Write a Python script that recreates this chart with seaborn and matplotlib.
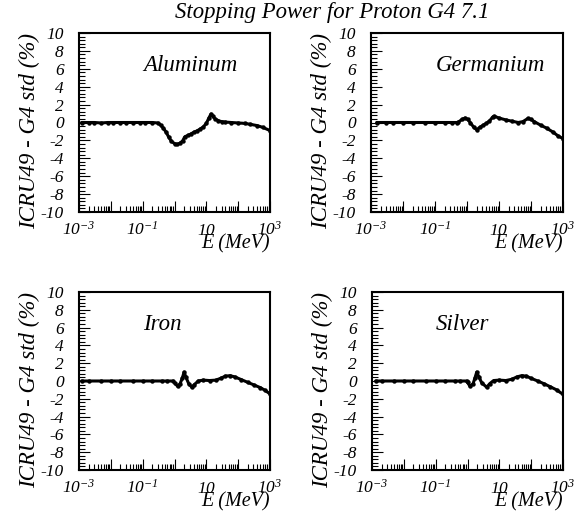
import matplotlib
matplotlib.use("Agg")
import matplotlib.pyplot as plt
import seaborn as sns
import pandas as pd
from matplotlib.ticker import FixedLocator, LogLocator, MultipleLocator, NullFormatter

sns.set_theme(style="ticks")
plt.rcParams["font.family"] = ["Liberation Serif", "DejaVu Serif"]
plt.rcParams["font.style"] = "italic"
plt.rcParams["mathtext.fontset"] = "custom"
plt.rcParams["mathtext.rm"] = "Liberation Serif:italic"
plt.rcParams["mathtext.it"] = "Liberation Serif:italic"
plt.rcParams["mathtext.default"] = "rm"
plt.rcParams["axes.unicode_minus"] = False

title = "Stopping Power for Proton G4 7.1"
ylabel = "ICRU49 - G4 std (%)"
xlabel = "E (MeV)"
xtick_pos = [1e-3, 1e-2, 1e-1, 1, 10, 100, 1e3]
xtick_lab = [r"$10^{-3}$", "", r"$10^{-1}$", "", r"$10$", "", r"$10^{3}$"]
ytick_pos = [-10, -8, -6, -4, -2, 0, 2, 4, 6, 8, 10]

# Aluminum
al_E = [0.0012, 0.002, 0.003, 0.005, 0.008, 0.012, 0.02, 0.03, 0.05, 0.08, 0.12,
        0.2, 0.3, 0.37, 0.45, 0.55, 0.65, 0.8, 1.0, 1.2, 1.5, 1.8, 2.1, 2.6, 3.2,
        4.0, 5.0, 6.3, 8.0, 10, 12, 14, 16, 19, 24, 30, 40, 60, 100, 160, 240,
        400, 600, 1000]
al_d = [0.0, 0.0, 0.0, -0.05, 0.0, 0.0, 0.0, 0.0, 0.0, 0.0, 0.0,
        0.0, -0.05, -0.3, -0.65, -1.1, -1.6, -2.1, -2.35, -2.45, -2.3, -2.05, -1.6, -1.45, -1.3,
        -1.1, -0.95, -0.75, -0.5, -0.1, 0.5, 0.95, 0.7, 0.4, 0.2, 0.1, 0.05, 0.0, -0.05, -0.1, -0.2,
        -0.35, -0.55, -0.9]

# Germanium
ge_E = [0.0015, 0.003, 0.005, 0.01, 0.02, 0.05, 0.1, 0.2, 0.35, 0.5, 0.54, 0.7, 0.87,
        1.05, 1.26, 1.6, 2.0, 2.5, 3.2, 4.0, 5.0, 6.3, 7.1, 10, 16, 25, 40, 56, 80,
        100, 126, 200, 316, 500, 700, 1000]
ge_d = [0.0, 0.0, 0.0, 0.0, 0.0, 0.0, 0.0, 0.0, 0.0, 0.0, 0.05, 0.35, 0.5,
        0.35, 0.0, -0.5, -0.8, -0.55, -0.3, -0.1, 0.15, 0.6, 0.7, 0.5, 0.3, 0.15, 0.0, 0.1, 0.45,
        0.35, 0.1, -0.3, -0.65, -1.1, -1.5, -1.8]

# Iron
fe_E = [0.0012, 0.002, 0.005, 0.01, 0.02, 0.05, 0.1, 0.2, 0.4, 0.6, 0.9, 1.0, 1.26,
        1.5, 1.75, 2.0, 2.3, 2.8, 3.5, 4.2, 5.6, 8.0, 12.6, 20, 28, 40, 56, 80,
        126, 200, 316, 500, 700, 1000]
fe_d = [0.0, 0.0, 0.0, 0.0, 0.0, 0.0, 0.0, 0.0, 0.0, 0.0, 0.0, -0.2, -0.6,
        -0.3, 0.3, 1.0, 0.4, -0.3, -0.7, -0.4, 0.0, 0.1, 0.05, 0.1, 0.3, 0.55, 0.6, 0.45,
        0.15, -0.15, -0.45, -0.75, -1.05, -1.45]

# Silver
ag_E = [0.0013, 0.002, 0.005, 0.01, 0.02, 0.05, 0.1, 0.2, 0.4, 0.6, 0.95, 1.0, 1.2,
        1.5, 1.7, 1.95, 2.25, 2.8, 4.0, 5.0, 6.6, 10, 16, 25, 35, 50, 70, 100,
        160, 250, 400, 630, 1000]
ag_d = [0.0, 0.0, 0.0, 0.0, 0.0, 0.0, 0.0, 0.0, 0.0, 0.0, 0.0, -0.15, -0.6,
        -0.3, 0.3, 1.0, 0.5, -0.2, -0.7, -0.3, 0.05, 0.1, 0.05, 0.2, 0.45, 0.6, 0.55, 0.3,
        0.0, -0.3, -0.65, -1.0, -1.5]

panels = [
    ("Aluminum", al_E, al_d, [79 / 585, 1 - 212 / 515, 191 / 585, 179 / 515]),
    ("Germanium", ge_E, ge_d, [371 / 585, 1 - 212 / 515, 192 / 585, 179 / 515]),
    ("Iron", fe_E, fe_d, [79 / 585, 1 - 470 / 515, 191 / 585, 178 / 515]),
    ("Silver", ag_E, ag_d, [372 / 585, 1 - 470 / 515, 191 / 585, 178 / 515]),
]

fig = plt.figure(figsize=(5.85, 5.15), dpi=100)
fig.patch.set_facecolor("white")

for name, E, d, rect in panels:
    ax = fig.add_axes(rect)
    df = pd.DataFrame({"E": E, "d": d})
    sns.lineplot(data=df, x="E", y="d", ax=ax, color="black", linewidth=2.2,
                 marker="o", markersize=3.2, markeredgewidth=0, sort=False)
    ax.set_xscale("log")
    ax.set_xlim(1e-3, 1e3)
    ax.set_ylim(-10, 10)
    ax.set_facecolor("white")
    for s in ax.spines.values():
        s.set_linewidth(1.5)
        s.set_color("black")
        s.set_visible(True)
    ax.xaxis.set_major_locator(FixedLocator(xtick_pos))
    ax.set_xticklabels(xtick_lab)
    ax.xaxis.set_minor_locator(LogLocator(base=10, subs=[2, 3, 4, 5, 6, 7, 8, 9], numticks=20))
    ax.xaxis.set_minor_formatter(NullFormatter())
    ax.set_yticks(ytick_pos)
    ax.yaxis.set_minor_locator(MultipleLocator(0.4))
    ax.tick_params(which="both", direction="in", top=False, right=False,
                   color="black", width=0.8, labelsize=12.5, labelcolor="black")
    ax.tick_params(which="major", length=8)
    ax.tick_params(which="minor", length=4.3)
    ax.tick_params(axis="y", which="major", pad=11)
    ax.tick_params(axis="x", which="major", pad=6)
    # plain "10" label sits level with the other bases
    ax.xaxis.get_major_ticks()[4].label1.set_y(-0.015)
    ax.set_ylabel(ylabel, loc="top", fontsize=16.5, labelpad=0, color="black")
    ax.set_xlabel(xlabel, loc="right", fontsize=14.5, color="black")
    ax.xaxis.set_label_coords(1.0, -0.125)
    ax.text(0.335, 0.82, name, transform=ax.transAxes, ha="left", va="center",
            fontsize=16.5, color="black")

fig.text(0.568, 0.975, title, ha="center", va="center", fontsize=16.4, color="black")

fig.savefig("out.png", dpi=100, facecolor="white")
